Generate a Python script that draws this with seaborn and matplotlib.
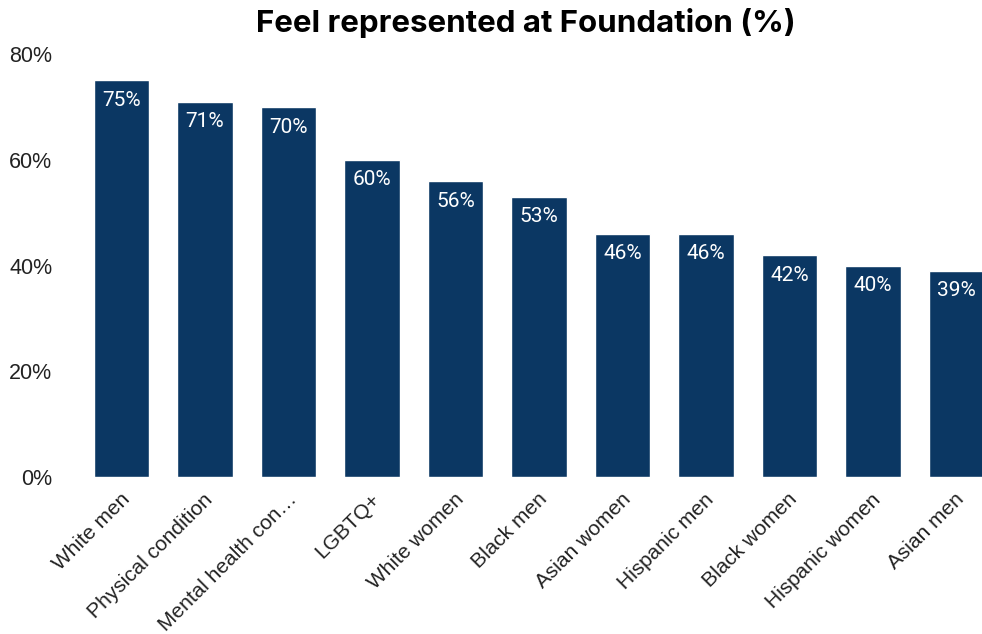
import matplotlib
matplotlib.use("Agg")
import matplotlib.pyplot as plt
import matplotlib.ticker as mticker
import matplotlib.transforms as mtransforms
import pandas as pd
import seaborn as sns

# valores
grupos = ["White men", "Physical condition", "Mental health con\u2026", "LGBTQ+",
          "White women", "Black men", "Asian women", "Hispanic men",
          "Black women", "Hispanic women", "Asian men"]
porcentajes = [75, 71, 70, 60, 56, 53, 46, 46, 42, 40, 39]
ticks_y = [0, 20, 40, 60, 80]

color_barra = "#0b3763"

df = pd.DataFrame({"grupo": grupos, "pct": porcentajes})

sns.set_style("white")
plt.rcParams["font.family"] = ["Liberation Sans", "DejaVu Sans"]

W, H = 982, 634
fig = plt.figure(figsize=(W / 100, H / 100), dpi=100)
ax = fig.add_axes([65 / W, (H - 477) / H, (982 - 65) / W, 423 / H])

sns.barplot(data=df, x="grupo", y="pct", color=color_barra, saturation=1,
            width=0.66, ax=ax)

ax.set_xlim((65 - 121.5) / 83.5, (982 - 121.5) / 83.5)
ax.set_ylim(0, 80)
ax.set_yticks(ticks_y)
ax.yaxis.set_major_formatter(mticker.FuncFormatter(lambda v, p: f"{v:.0f}%"))
ax.tick_params(axis="y", length=0, pad=9, labelsize=15.5, labelcolor="#222222")
ax.tick_params(axis="x", length=0, pad=14, labelsize=15, labelcolor="#222222")
desplaza = mtransforms.ScaledTranslation(5 / 100, 0, fig.dpi_scale_trans)
for lab in ax.get_xticklabels():
    lab.set_rotation(45)
    lab.set_ha("right")
    lab.set_va("center")
    lab.set_rotation_mode("anchor")
    lab.set_transform(lab.get_transform() + desplaza)

ax.set_xlabel("")
ax.set_ylabel("")
sns.despine(ax=ax, left=True, bottom=True)

for barra, val in zip(ax.patches, porcentajes):
    ax.annotate(f"{val}%", (barra.get_x() + barra.get_width() / 2, barra.get_height()),
                xytext=(0, -14.5), textcoords="offset points", ha="center", va="center",
                color="white", fontsize=15, family=["Roboto", "DejaVu Sans"])

fig.text(526 / W, 1 - 23 / H, "Feel represented at Foundation (%)", ha="center", va="center",
         fontsize=22.5, fontweight="bold", family=["Inter", "DejaVu Sans"], color="black")

fig.savefig("out.png", dpi=100)
